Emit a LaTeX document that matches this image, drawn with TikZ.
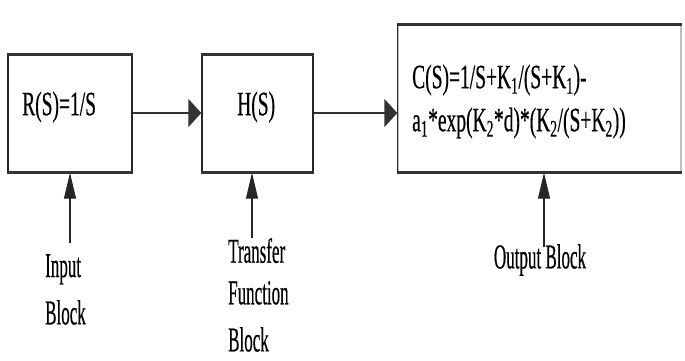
\documentclass[tikz,border=0pt]{standalone}
\usepackage{fontspec}
\setmainfont[FakeBold=0.6,BoldFont={Liberation Serif}]{Liberation Serif}
\newfontfamily\heavyserif[FakeBold=0.6]{Liberation Serif}
\usetikzlibrary{arrows.meta}
\newcommand{\tallA}[1]{\scalebox{1}[1.75]{#1}}
\newcommand{\tallB}[1]{\scalebox{1}[2.05]{#1}}
\tikzset{
  blk/.style={draw=black!85, line width=1.4pt, inner sep=0pt},
  edgeh/.style={line width=3pt, draw=black!80},
  harrow/.style={draw=black!80, line width=2.2pt, -{Triangle[length=13pt,width=28pt]}},
  varrow/.style={draw=black!85, line width=1.1pt, -{Triangle[length=26pt,width=12pt]}},
  boxtxt/.style={font=\heavyserif\fontsize{19.5}{19.5}\selectfont, anchor=west, inner sep=0pt},
  lbl/.style={font=\heavyserif\fontsize{17}{17}\selectfont, inner sep=0pt}
}
\begin{document}
\begin{tikzpicture}[x=1pt,y=-1pt]
\useasboundingbox (0,0) rectangle (685,361);
% boxes
\node[blk, minimum width=124pt, minimum height=117pt] (b1) at (70,113.5) {};
\node[blk, minimum width=111pt, minimum height=117pt] (b2) at (257.5,113.5) {};
\node[blk, minimum width=283pt, minimum height=147pt, draw=black!25] (b3) at (539.5,98.5) {};
\draw[edgeh] (b3.north west) -- (b3.north east);
\draw[edgeh] (b3.south west) -- (b3.south east);
\draw[blk] (b3.north west) -- (b3.south west);
\draw[edgeh] (b1.north west) -- (b1.north east);
\draw[edgeh] (b1.south west) -- (b1.south east);
\draw[edgeh] (b2.north west) -- (b2.north east);
\draw[edgeh] (b2.south west) -- (b2.south east);
% texts
\node[boxtxt] (t1) at (22,107) {\tallA{R(S)=1/S}};
\node[boxtxt] (t2) at (237,107) {\tallA{H(S)}};
\node[boxtxt] (t3) at (412,80) {\tallA{C(S)=1/S+K\textsubscript{1}/(S+K\textsubscript{1})-}};
\node[boxtxt] (t4) at (412,123) {\tallA{a\textsubscript{1}*exp(K\textsubscript{2}*d)*(K\textsubscript{2}/(S+K\textsubscript{2}))}};
% horizontal arrows
\draw[harrow] (b1.east |- 0,113) -- (b2.west |- 0,113);
\draw[harrow] (b2.east |- 0,113) -- (b3.west |- 0,113);
% labels
\node[lbl, anchor=north west] (l1a) at (45,254) {\tallB{Input}};
\node[lbl, anchor=north west] (l1b) at (45,300) {\tallB{Block}};
\node[lbl, anchor=north west] (l2a) at (228,238) {\tallB{Transfer}};
\node[lbl, anchor=north west] (l2b) at (228,281) {\tallB{Function}};
\node[lbl, anchor=north west] (l2c) at (228,327) {\tallB{Block}};
\node[lbl] (l3) at (540,260) {\tallB{Output Block}};
\coordinate (s1) at (70,243);
\coordinate (s2) at (252,238);
\coordinate (s3) at (544,247);
\draw[varrow] (s1) -- (s1 |- b1.south);
\draw[varrow] (s2) -- (s2 |- b2.south);
\draw[varrow] (s3) -- (s3 |- b3.south);
\end{tikzpicture}
\end{document}
